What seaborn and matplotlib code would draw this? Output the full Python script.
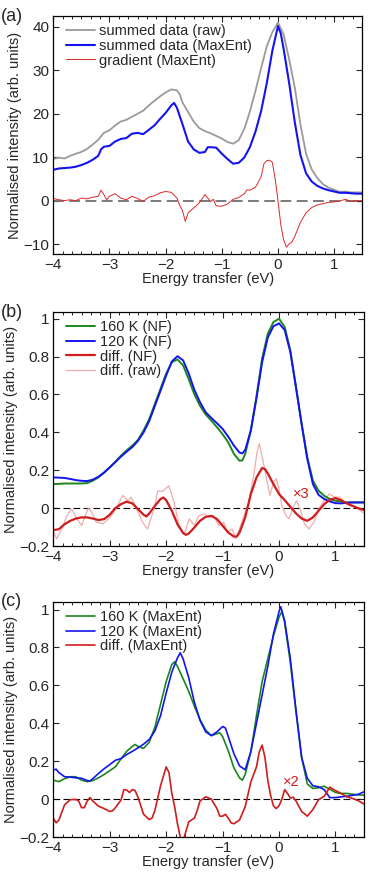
import numpy as np
import pandas as pd
import seaborn as sns
import matplotlib.pyplot as plt
from matplotlib.ticker import MultipleLocator

sns.set_theme(style='ticks')
plt.rcParams['font.family'] = ['Liberation Sans', 'DejaVu Sans']

# ---- panel (a): summed data and gradient ----
a_raw_x = [-4.0, -3.9, -3.8, -3.7, -3.6, -3.5, -3.4, -3.3, -3.2, -3.1, -3.0, -2.9, -2.8, -2.7, -2.6, -2.5,
           -2.4, -2.3, -2.2, -2.1, -2.0, -1.9, -1.8, -1.75, -1.7, -1.6, -1.5, -1.4, -1.3, -1.2, -1.1, -1.0,
           -0.9, -0.8, -0.7, -0.6, -0.5, -0.4, -0.3, -0.2, -0.1, 0.0, 0.1, 0.2, 0.3, 0.4, 0.5, 0.6, 0.7,
           0.8, 0.9, 1.0, 1.1, 1.2, 1.3, 1.4, 1.5]
a_raw_y = [9.6, 9.9, 9.7, 10.3, 10.8, 11.2, 11.9, 12.9, 14.0, 15.6, 16.2, 17.3, 18.2, 18.6, 19.3, 20.0,
           20.7, 21.9, 23.0, 24.0, 24.9, 25.6, 25.4, 24.5, 22.6, 20.4, 18.2, 16.7, 16.0, 15.5, 14.9, 14.3,
           13.5, 13.1, 13.9, 16.5, 20.5, 25.3, 30.5, 35.5, 38.8, 41.0, 38.3, 32.5, 26.0, 17.5, 10.8, 7.2, 5.2,
           3.8, 3.0, 2.5, 2.0, 2.1, 1.9, 1.9, 1.9]

a_me_x = [-4.0, -3.9, -3.8, -3.7, -3.6, -3.5, -3.4, -3.3, -3.2, -3.15, -3.1, -3.0, -2.9, -2.8, -2.7, -2.6,
          -2.5, -2.4, -2.3, -2.2, -2.1, -2.0, -1.9, -1.85, -1.8, -1.7, -1.6, -1.5, -1.4, -1.3, -1.25, -1.2,
          -1.1, -1.0, -0.9, -0.8, -0.7, -0.6, -0.5, -0.4, -0.3, -0.2, -0.1, 0.0, 0.05, 0.1, 0.2, 0.3, 0.4,
          0.5, 0.6, 0.7, 0.8, 0.9, 1.0, 1.1, 1.2, 1.3, 1.4, 1.5]
a_me_y = [7.1, 7.4, 7.5, 7.6, 7.8, 8.2, 8.7, 9.4, 10.3, 11.8, 12.4, 12.6, 13.6, 14.2, 14.4, 15.4,
          15.6, 15.3, 16.3, 17.3, 18.8, 20.2, 21.9, 22.5, 21.4, 17.6, 13.6, 11.8, 11.0, 11.2, 12.3, 12.3,
          12.2, 10.8, 9.6, 8.5, 8.7, 9.9, 12.3, 15.9, 20.6, 27.0, 34.5, 40.2, 38.5, 35.0, 27.0, 18.0, 10.5,
          6.3, 4.4, 3.4, 2.8, 2.4, 2.1, 1.8, 1.8, 1.7, 1.6, 1.6]

a_grad_x = [-4.0, -3.9, -3.8, -3.7, -3.6, -3.5, -3.4, -3.3, -3.2, -3.15, -3.1, -3.05, -3.0, -2.9, -2.8,
            -2.7, -2.6, -2.5, -2.4, -2.3, -2.2, -2.1, -2.0, -1.9, -1.8, -1.75, -1.7, -1.65, -1.6, -1.5,
            -1.4, -1.3, -1.25, -1.2, -1.15, -1.1, -1.0, -0.9, -0.8, -0.7, -0.6, -0.55, -0.5, -0.4, -0.3,
            -0.25, -0.2, -0.15, -0.1, -0.05, 0.0, 0.05, 0.1, 0.15, 0.2, 0.25, 0.3, 0.4, 0.5, 0.6, 0.7,
            0.8, 0.9, 1.0, 1.1, 1.2, 1.3, 1.4, 1.5]
a_grad_y = [0.5, 0.2, 0.0, 0.2, 0.0, 0.6, 0.4, 0.8, 1.0, 2.4, 1.4, 0.2, 1.0, 1.6, 0.6,
            0.2, 1.0, 0.5, -0.2, 0.8, 1.1, 1.8, 2.1, 1.9, 0.6, -1.1, -2.3, -4.8, -2.8, -1.7,
            -0.5, 1.4, 0.6, -0.2, 0.3, -1.2, -1.3, -0.8, 0.3, 0.7, 1.6, 2.5, 2.4, 3.1, 5.5,
            8.5, 9.2, 9.3, 8.8, 5.0, 0.0, -5.5, -9.0, -10.7, -10.0, -9.5, -8.2, -5.0, -2.8, -1.6, -1.0,
            -0.7, -0.4, -0.3, -0.1, 0.3, -0.2, 0.0, 0.0]

# ---- panel (b): NF data ----
b_x = [-4.0, -3.9, -3.8, -3.7, -3.6, -3.5, -3.4, -3.3, -3.2, -3.1, -3.0, -2.9, -2.8, -2.7, -2.6, -2.5,
       -2.4, -2.3, -2.2, -2.1, -2.0, -1.9, -1.8, -1.7, -1.6, -1.5, -1.4, -1.3, -1.2, -1.1, -1.0, -0.9,
       -0.8, -0.7, -0.65, -0.6, -0.5, -0.4, -0.3, -0.2, -0.1, 0.0, 0.1, 0.2, 0.3, 0.4, 0.5, 0.6, 0.7,
       0.8, 0.9, 1.0, 1.1, 1.2, 1.3, 1.4, 1.5]
b_160 = [0.127, 0.128, 0.13, 0.13, 0.13, 0.13, 0.132, 0.145, 0.162, 0.187, 0.215, 0.245, 0.277, 0.305, 0.33, 0.36,
         0.41, 0.47, 0.55, 0.63, 0.71, 0.77, 0.785, 0.753, 0.68, 0.6, 0.54, 0.494, 0.462, 0.427, 0.39, 0.347,
         0.286, 0.25, 0.252, 0.286, 0.41, 0.59, 0.79, 0.92, 0.982, 1.0, 0.956, 0.832, 0.638, 0.444, 0.268, 0.145, 0.092,
         0.065, 0.048, 0.039, 0.034, 0.03, 0.03, 0.03, 0.03]
b_120 = [0.162, 0.161, 0.159, 0.154, 0.148, 0.144, 0.143, 0.15, 0.166, 0.188, 0.215, 0.243, 0.272, 0.298, 0.322, 0.355,
         0.4, 0.46, 0.54, 0.62, 0.7, 0.774, 0.802, 0.78, 0.71, 0.624, 0.559, 0.506, 0.476, 0.448, 0.418, 0.377,
         0.33, 0.293, 0.289, 0.307, 0.41, 0.58, 0.77, 0.9, 0.96, 0.975, 0.94, 0.824, 0.638, 0.444, 0.26, 0.127, 0.07,
         0.048, 0.035, 0.026, 0.025, 0.028, 0.03, 0.03, 0.03]

b_diff_x = [-4.0, -3.9, -3.8, -3.7, -3.6, -3.5, -3.4, -3.3, -3.2, -3.1, -3.0, -2.9, -2.8, -2.7, -2.6, -2.5,
            -2.4, -2.35, -2.3, -2.2, -2.1, -2.05, -2.0, -1.9, -1.8, -1.7, -1.65, -1.6, -1.5, -1.4, -1.3, -1.2,
            -1.1, -1.0, -0.9, -0.8, -0.75, -0.7, -0.6, -0.5, -0.4, -0.3, -0.25, -0.2, -0.1, 0.0, 0.1, 0.2,
            0.3, 0.4, 0.5, 0.6, 0.7, 0.8, 0.9, 1.0, 1.1, 1.2, 1.3, 1.4, 1.5]
b_diff = [-0.116, -0.111, -0.085, -0.067, -0.055, -0.049, -0.049, -0.055, -0.063, -0.058, -0.035, 0.0, 0.021, 0.034, 0.025, -0.005,
          -0.035, -0.044, -0.028, 0.012, 0.048, 0.056, 0.042, -0.014, -0.085, -0.132, -0.141, -0.134, -0.102, -0.067, -0.046, -0.041,
          -0.058, -0.093, -0.129, -0.15, -0.15, -0.129, -0.049, 0.074, 0.162, 0.212, 0.206, 0.183, 0.127, 0.074, 0.042, 0.007,
          -0.028, -0.055, -0.067, -0.049, -0.014, 0.021, 0.044, 0.053, 0.042, 0.025, 0.012, 0.0, -0.01]

b_raw_x = [-4.0, -3.94, -3.85, -3.76, -3.68, -3.59, -3.5, -3.38, -3.32, -3.24, -3.12, -3.0, -2.88, -2.77, -2.68,
           -2.62, -2.53, -2.42, -2.33, -2.21, -2.15, -2.06, -1.95, -1.86, -1.77, -1.68, -1.59, -1.5, -1.42,
           -1.33, -1.24, -1.16, -1.07, -0.98, -0.92, -0.83, -0.77, -0.68, -0.6, -0.54, -0.45, -0.39, -0.35,
           -0.29, -0.21, -0.16, -0.1, -0.05, 0.0, 0.05, 0.12, 0.18, 0.24, 0.31, 0.39, 0.45, 0.53, 0.62,
           0.71, 0.8, 0.89, 0.98, 1.07, 1.16, 1.24, 1.36, 1.47, 1.5]
b_raw = [-0.12, -0.162, -0.11, -0.04, -0.004, -0.05, -0.092, 0.0, -0.02, -0.074, -0.083, -0.05, 0.0, 0.067, 0.04,
         0.058, 0.0, -0.074, -0.11, 0.0, 0.09, 0.09, 0.118, 0.03, -0.092, -0.136, -0.057, -0.092, -0.04,
         -0.03, -0.048, -0.04, -0.092, -0.074, -0.127, -0.11, -0.162, -0.092, -0.02, 0.03, 0.17, 0.296, 0.34,
         0.26, 0.136, 0.067, 0.136, 0.155, 0.1, 0.014, -0.04, -0.057, 0.0, 0.04, -0.02, -0.083, -0.11, -0.074,
         0.0, 0.04, 0.075, 0.058, 0.058, 0.03, 0.014, 0.005, -0.02, -0.025]

# ---- panel (c): MaxEnt data ----
c_160_x = [-4.0, -3.9, -3.8, -3.7, -3.6, -3.5, -3.4, -3.3, -3.2, -3.1, -3.0, -2.9, -2.8, -2.7, -2.6, -2.55,
           -2.5, -2.4, -2.3, -2.2, -2.1, -2.0, -1.9, -1.85, -1.8, -1.7, -1.6, -1.5, -1.4, -1.3, -1.2, -1.1,
           -1.05, -1.0, -0.9, -0.8, -0.7, -0.65, -0.6, -0.5, -0.4, -0.3, -0.2, -0.1, 0.0, 0.05, 0.1, 0.2,
           0.3, 0.4, 0.5, 0.6, 0.7, 0.8, 0.9, 1.0, 1.1, 1.2, 1.3, 1.4, 1.5]
c_160 = [0.1, 0.092, 0.108, 0.118, 0.118, 0.1, 0.092, 0.098, 0.112, 0.13, 0.15, 0.17, 0.212, 0.252, 0.278, 0.288,
         0.278, 0.268, 0.3, 0.38, 0.5, 0.62, 0.71, 0.725, 0.7, 0.635, 0.568, 0.49, 0.42, 0.365, 0.335, 0.345,
         0.35, 0.33, 0.255, 0.165, 0.112, 0.1, 0.13, 0.25, 0.44, 0.62, 0.74, 0.86, 0.96, 0.99, 0.93, 0.72,
         0.46, 0.22, 0.08, 0.056, 0.06, 0.068, 0.052, 0.035, 0.03, 0.03, 0.026, 0.022, 0.021]

c_120_x = [-4.0, -3.95, -3.9, -3.8, -3.7, -3.6, -3.5, -3.4, -3.35, -3.3, -3.2, -3.1, -3.0, -2.9, -2.8, -2.7,
           -2.6, -2.5, -2.4, -2.3, -2.2, -2.1, -2.0, -1.9, -1.8, -1.75, -1.7, -1.6, -1.5, -1.4, -1.3, -1.2,
           -1.1, -1.0, -0.95, -0.9, -0.8, -0.7, -0.6, -0.5, -0.4, -0.3, -0.2, -0.1, 0.0, 0.03, 0.1, 0.2,
           0.3, 0.4, 0.5, 0.6, 0.7, 0.8, 0.9, 1.0, 1.1, 1.2, 1.3, 1.4, 1.5]
c_120 = [0.153, 0.158, 0.14, 0.118, 0.116, 0.112, 0.11, 0.098, 0.095, 0.108, 0.135, 0.16, 0.182, 0.205, 0.214, 0.235,
         0.252, 0.27, 0.29, 0.315, 0.36, 0.44, 0.56, 0.67, 0.745, 0.772, 0.74, 0.64, 0.51, 0.415, 0.355, 0.335,
         0.355, 0.383, 0.375, 0.33, 0.24, 0.175, 0.155, 0.25, 0.4, 0.55, 0.7, 0.87, 0.99, 1.015, 0.94, 0.74,
         0.47, 0.22, 0.11, 0.07, 0.065, 0.05, 0.008, 0.008, 0.012, 0.015, 0.02, 0.025, 0.038]

c_diff_x = [-4.0, -3.95, -3.9, -3.85, -3.8, -3.7, -3.6, -3.55, -3.5, -3.45, -3.4, -3.35, -3.3, -3.2, -3.1, -3.0,
            -2.95, -2.9, -2.8, -2.75, -2.7, -2.65, -2.6, -2.55, -2.5, -2.4, -2.3, -2.25, -2.2, -2.1, -2.0, -1.95,
            -1.9, -1.85, -1.8, -1.75, -1.72, -1.68, -1.6, -1.55, -1.5, -1.45, -1.4, -1.3, -1.2, -1.1, -1.05,
            -1.0, -0.95, -0.9, -0.85, -0.8, -0.7, -0.6, -0.5, -0.4, -0.35, -0.3, -0.25, -0.2, -0.15, -0.1,
            -0.05, 0.0, 0.05, 0.1, 0.15, 0.2, 0.25, 0.3, 0.4, 0.5, 0.6, 0.7, 0.8, 0.9, 1.0, 1.1, 1.2, 1.3,
            1.4, 1.5]
c_diff = [-0.1, -0.125, -0.11, -0.07, -0.03, -0.003, -0.002, -0.01, -0.045, -0.045, -0.01, 0.008, -0.01, -0.037, -0.05, -0.065,
          -0.062, -0.045, -0.005, 0.05, 0.048, 0.035, 0.05, 0.045, 0.01, -0.08, -0.108, -0.1, -0.06, 0.07, 0.17, 0.14,
          0.03, -0.04, -0.13, -0.2, -0.24, -0.2, -0.12, -0.11, -0.1, -0.06, -0.01, 0.012, 0.0, -0.05, -0.09,
          -0.09, -0.08, -0.1, -0.125, -0.13, -0.11, -0.04, 0.09, 0.17, 0.25, 0.285, 0.22, 0.1, 0.02, -0.035,
          -0.05, -0.035, 0.0, 0.05, 0.03, 0.005, 0.01, -0.01, -0.065, -0.09, -0.055, -0.003, 0.015, 0.063, 0.045, 0.03, 0.012, 0.004,
          -0.008, -0.025]

grey = '#9a9a9a'
blue = '#1414f0'
green = '#1b871b'
red_thin = '#e02828'
red = '#d01c1c'
pink = '#f0acac'

fig = plt.figure(figsize=(3.74, 8.76), dpi=100)
ax_a = fig.add_axes([0.1425, 0.710, 0.826, 0.2717])
ax_b = fig.add_axes([0.1425, 0.3767, 0.830, 0.2671])
ax_c = fig.add_axes([0.1425, 0.0445, 0.830, 0.2683])


def line(ax, x, y, **kw):
    df = pd.DataFrame({'E': x, 'I': y})
    sns.lineplot(data=df, x='E', y='I', ax=ax, sort=False, estimator=None, **kw)


def style_axes(ax, ylim, yticks, ylabels, letter):
    ax.set_xlim(-4, 1.5)
    ax.set_ylim(*ylim)
    ax.set_xticks([-4, -3, -2, -1, 0, 1])
    ax.xaxis.set_minor_locator(MultipleLocator(1 / 6))
    ax.set_yticks(yticks)
    ax.set_yticklabels(ylabels)
    ax.tick_params(which='both', direction='in', top=True, right=True, labelsize=11, pad=3)
    ax.tick_params(which='major', length=4, width=0.8)
    ax.tick_params(which='minor', length=2, width=0.7)
    for s in ax.spines.values():
        s.set_linewidth(0.9)
        s.set_color('black')
    ax.set_xlabel('Energy transfer (eV)', fontsize=10.5, labelpad=0)
    ax.set_ylabel('Normalised intensity (arb. units)', fontsize=10.5, labelpad=1)
    fig.text(0.003, ax.get_position().y1 + 0.0, letter, fontsize=13, va='center', ha='left')


# (a)
line(ax_a, a_raw_x, a_raw_y, color=grey, linewidth=1.3, label='summed data (raw)')
line(ax_a, a_me_x, a_me_y, color=blue, linewidth=1.5, label='summed data (MaxEnt)')
line(ax_a, a_grad_x, a_grad_y, color=red_thin, linewidth=0.7, label='gradient (MaxEnt)')
ax_a.axhline(0, color='#707070', linestyle=(0, (6, 3)), linewidth=1.3, zorder=1)
style_axes(ax_a, (-12.3, 42.5), [-10, 0, 10, 20, 30, 40], ['\u221210', '0', '10', '20', '30', '40'], '(a)')

# (b)
line(ax_b, b_raw_x, b_raw, color=pink, linewidth=0.9, label='diff. (raw)')
line(ax_b, b_x, b_160, color=green, linewidth=1.4, label='160 K (NF)')
line(ax_b, b_x, b_120, color=blue, linewidth=1.4, label='120 K (NF)')
line(ax_b, b_diff_x, b_diff, color=red, linewidth=1.6, label='diff. (NF)')
ax_b.axhline(0, color='black', linestyle=(0, (6, 3)), linewidth=0.8, zorder=1)
ax_b.text(0.4, 0.075, '\u00d73', color=red, fontsize=10.5, ha='center', va='center')
style_axes(ax_b, (-0.2, 1.035), [-0.2, 0, 0.2, 0.4, 0.6, 0.8, 1],
           ['\u22120.2', '0', '0.2', '0.4', '0.6', '0.8', '1'], '(b)')

# (c)
line(ax_c, c_160_x, c_160, color=green, linewidth=1.2, label='160 K (MaxEnt)')
line(ax_c, c_120_x, c_120, color=blue, linewidth=1.2, label='120 K (MaxEnt)')
line(ax_c, c_diff_x, c_diff, color=red, linewidth=1.2, label='diff. (MaxEnt)')
ax_c.axhline(0, color='black', linestyle=(0, (6, 3)), linewidth=0.8, zorder=1)
ax_c.text(0.22, 0.09, '\u00d72', color=red, fontsize=10.5, ha='center', va='center')
style_axes(ax_c, (-0.2, 1.04), [-0.2, 0, 0.2, 0.4, 0.6, 0.8, 1],
           ['\u22120.2', '0', '0.2', '0.4', '0.6', '0.8', '1'], '(c)')

# legends
for ax, order in [(ax_a, [0, 1, 2]), (ax_b, [1, 2, 3, 0]), (ax_c, [0, 1, 2])]:
    h, l = ax.get_legend_handles_labels()
    ax.legend([h[i] for i in order], [l[i] for i in order], loc='upper left', frameon=False,
              fontsize=10.5, handlelength=2.0, handletextpad=0.3, labelspacing=0.05,
              borderaxespad=0.15, bbox_to_anchor=(0.015, 1.0))

fig.savefig('out.png', dpi=100)
